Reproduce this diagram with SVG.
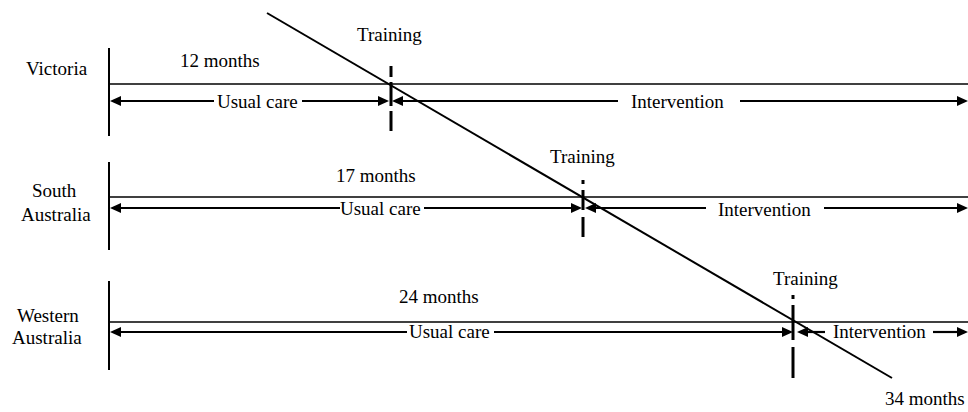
<svg xmlns="http://www.w3.org/2000/svg" width="968" height="412" viewBox="0 0 968 412">
<style>
.v{stroke:#000;stroke-width:2;fill:none}
.t{stroke:#000;stroke-width:1.6;fill:none}
.a{stroke:#000;stroke-width:2.2;fill:none}
.d{stroke:#000;stroke-width:3;fill:none}
.h{fill:#000;stroke:none}
</style>
<rect width="968" height="412" fill="#fff"/>
<g font-family="Liberation Serif, Tinos, 'Times New Roman', 'DejaVu Serif', serif" font-size="19" fill="#000">
<g id="victoria">
<text x="26" y="75">Victoria</text>
<line class="v" x1="109" y1="48" x2="109" y2="136"/>
<text x="180" y="67">12 months</text>
<line class="t" x1="109" y1="84" x2="968" y2="84"/>
<text x="217" y="108">Usual care</text>
<line class="a" x1="118" y1="101" x2="214" y2="101"/>
<line class="a" x1="302" y1="101" x2="380" y2="101"/>
<line class="a" x1="400" y1="101" x2="618" y2="101"/>
<line class="a" x1="740" y1="101" x2="960" y2="101"/>
<polygon class="h" points="110,101 121,96 121,106"/>
<polygon class="h" points="389,101 378,96 378,106"/>
<polygon class="h" points="392,101 403,96 403,106"/>
<polygon class="h" points="968,101 957,96 957,106"/>
<text x="631" y="108">Intervention</text>
<text x="357" y="41">Training</text>
<line class="d" x1="391" y1="66" x2="391" y2="77"/>
<line class="d" x1="391" y1="82" x2="391" y2="106"/>
<line class="d" x1="391" y1="111" x2="391" y2="131"/>
</g>
<g id="south-australia">
<text x="32" y="197">South</text>
<text x="21" y="221">Australia</text>
<line class="v" x1="109" y1="162" x2="109" y2="250"/>
<text x="336" y="182">17 months</text>
<line class="t" x1="109" y1="197" x2="968" y2="197"/>
<text x="340" y="215">Usual care</text>
<line class="a" x1="118" y1="208" x2="340" y2="208"/>
<line class="a" x1="424" y1="208" x2="574" y2="208"/>
<line class="a" x1="594" y1="208" x2="706" y2="208"/>
<line class="a" x1="824" y1="208" x2="960" y2="208"/>
<polygon class="h" points="110,208 121,203 121,213"/>
<polygon class="h" points="582,208 571,203 571,213"/>
<polygon class="h" points="585,208 596,203 596,213"/>
<polygon class="h" points="968,208 957,203 957,213"/>
<text x="718" y="216">Intervention</text>
<text x="550" y="163">Training</text>
<line class="d" x1="583" y1="180" x2="583" y2="184"/>
<line class="d" x1="583" y1="190" x2="583" y2="210"/>
<line class="d" x1="583" y1="217" x2="583" y2="237"/>
</g>
<g id="western-australia">
<text x="17" y="322">Western</text>
<text x="12" y="344">Australia</text>
<line class="v" x1="109" y1="281" x2="109" y2="370"/>
<text x="399" y="303">24 months</text>
<line class="t" x1="109" y1="322" x2="968" y2="322"/>
<text x="409" y="338">Usual care</text>
<line class="a" x1="118" y1="332" x2="407" y2="332"/>
<line class="a" x1="494" y1="332" x2="784" y2="332"/>
<line class="a" x1="805" y1="332" x2="825" y2="332"/>
<line class="a" x1="933" y1="332" x2="960" y2="332"/>
<polygon class="h" points="110,332 121,327 121,337"/>
<polygon class="h" points="793,332 782,327 782,337"/>
<polygon class="h" points="797,332 808,327 808,337"/>
<polygon class="h" points="968,332 957,327 957,337"/>
<text x="833" y="338">Intervention</text>
<text x="773" y="285">Training</text>
<line class="d" x1="793" y1="295" x2="793" y2="299"/>
<line class="d" x1="793" y1="305" x2="793" y2="340"/>
<line class="d" x1="793" y1="347" x2="793" y2="378"/>
<text x="885" y="405">34 months</text>
</g>
</g>
<g id="connectors">
<line class="v" x1="267" y1="13" x2="892" y2="378"/>
</g>
</svg>
